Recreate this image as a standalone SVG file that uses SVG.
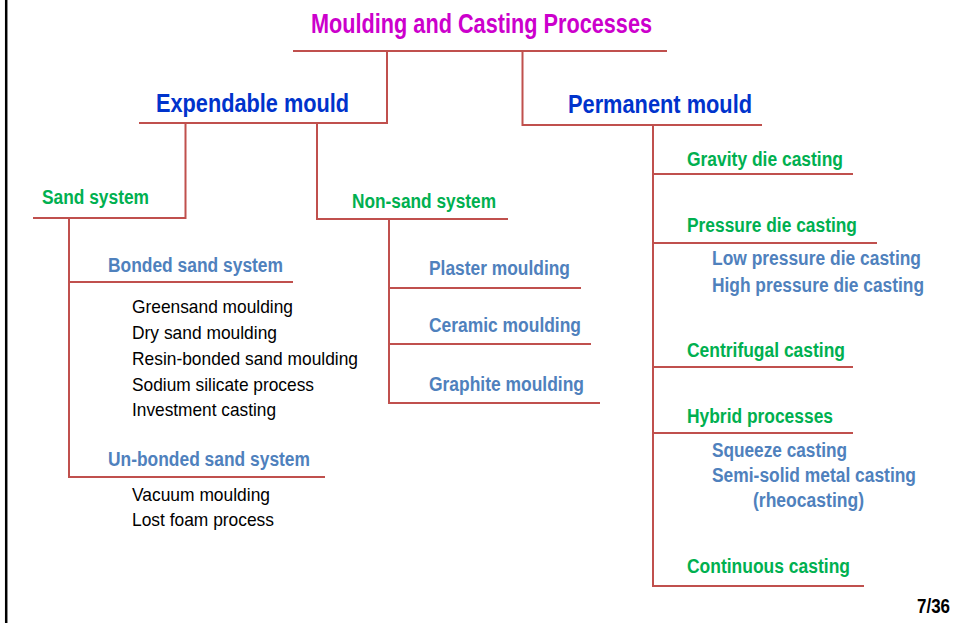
<svg xmlns="http://www.w3.org/2000/svg" width="957" height="623" viewBox="0 0 957 623">
<style>
text{font-family:"Liberation Sans",Arial,sans-serif;}
.b{font-weight:bold;}
.t{fill:#CC00CC;font-size:27px;font-weight:bold;}
.m{fill:#0033CC;font-size:25px;font-weight:bold;}
.g{fill:#00B050;font-size:19.5px;font-weight:bold;}
.s{fill:#4F81BD;font-size:19.5px;font-weight:bold;}
.k{fill:#000;font-size:19px;}
.c{stroke:#C0504D;stroke-width:2;fill:none;}
</style>
<rect x="0" y="0" width="957" height="623" fill="#fff"/>
<line x1="6.2" y1="0" x2="6.2" y2="623" stroke="#000" stroke-width="2.5"/>
<g id="connectors" class="c">
<path d="M293 51H667M387 51V123M139 123H388M522.5 51V125H762"/>
<path d="M185.5 123V218H33M317 123V219H508"/>
<path d="M69 218V477H325M69 282H293"/>
<path d="M389 219V403H600M389 288H581M389 344H591"/>
<path d="M653 125V586H864M653 174H853M653 243H877M653 367H853M653 433H853"/>
</g>
<g id="root"><text class="t" x="311" y="33" textLength="341" lengthAdjust="spacingAndGlyphs">Moulding and Casting Processes</text></g>
<g id="expendable"><text class="m" x="156" y="112" textLength="193" lengthAdjust="spacingAndGlyphs">Expendable mould</text></g>
<g id="permanent"><text class="m" x="568" y="113" textLength="184" lengthAdjust="spacingAndGlyphs">Permanent mould</text></g>
<g id="sand"><text class="g" x="42" y="204" textLength="107" lengthAdjust="spacingAndGlyphs">Sand system</text></g>
<g id="nonsand"><text class="g" x="352" y="208" textLength="144" lengthAdjust="spacingAndGlyphs">Non-sand system</text></g>
<g id="bonded">
<text class="s" x="108" y="272" textLength="175" lengthAdjust="spacingAndGlyphs">Bonded sand system</text>
<text class="k" x="132" y="313" textLength="161" lengthAdjust="spacingAndGlyphs">Greensand moulding</text>
<text class="k" x="132" y="339" textLength="145" lengthAdjust="spacingAndGlyphs">Dry sand moulding</text>
<text class="k" x="132" y="365" textLength="226" lengthAdjust="spacingAndGlyphs">Resin-bonded sand moulding</text>
<text class="k" x="132" y="391" textLength="182" lengthAdjust="spacingAndGlyphs">Sodium silicate process</text>
<text class="k" x="132" y="416" textLength="144" lengthAdjust="spacingAndGlyphs">Investment casting</text>
</g>
<g id="unbonded">
<text class="s" x="108" y="466" textLength="202" lengthAdjust="spacingAndGlyphs">Un-bonded sand system</text>
<text class="k" x="132" y="501" textLength="138" lengthAdjust="spacingAndGlyphs">Vacuum moulding</text>
<text class="k" x="132" y="526" textLength="142" lengthAdjust="spacingAndGlyphs">Lost foam process</text>
</g>
<g id="plaster"><text class="s" x="429" y="275" textLength="141" lengthAdjust="spacingAndGlyphs">Plaster moulding</text></g>
<g id="ceramic"><text class="s" x="429" y="332" textLength="152" lengthAdjust="spacingAndGlyphs">Ceramic moulding</text></g>
<g id="graphite"><text class="s" x="429" y="391" textLength="155" lengthAdjust="spacingAndGlyphs">Graphite moulding</text></g>
<g id="gravity"><text class="g" x="687" y="166" textLength="156" lengthAdjust="spacingAndGlyphs">Gravity die casting</text></g>
<g id="pressure">
<text class="g" x="687" y="232" textLength="170" lengthAdjust="spacingAndGlyphs">Pressure die casting</text>
<text class="s" x="712" y="265" textLength="209" lengthAdjust="spacingAndGlyphs">Low pressure die casting</text>
<text class="s" x="712" y="292" textLength="212" lengthAdjust="spacingAndGlyphs">High pressure die casting</text>
</g>
<g id="centrifugal"><text class="g" x="687" y="357" textLength="158" lengthAdjust="spacingAndGlyphs">Centrifugal casting</text></g>
<g id="hybrid">
<text class="g" x="687" y="423" textLength="146" lengthAdjust="spacingAndGlyphs">Hybrid processes</text>
<text class="s" x="712" y="457" textLength="135" lengthAdjust="spacingAndGlyphs">Squeeze casting</text>
<text class="s" x="712" y="482" textLength="204" lengthAdjust="spacingAndGlyphs">Semi-solid metal casting</text>
<text class="s" x="753" y="507" textLength="111" lengthAdjust="spacingAndGlyphs">(rheocasting)</text>
</g>
<g id="continuous"><text class="g" x="687" y="573" textLength="163" lengthAdjust="spacingAndGlyphs">Continuous casting</text></g>
<g id="page"><text class="b" x="917" y="613" font-size="19.5" fill="#000" textLength="33" lengthAdjust="spacingAndGlyphs">7/36</text></g>
</svg>
